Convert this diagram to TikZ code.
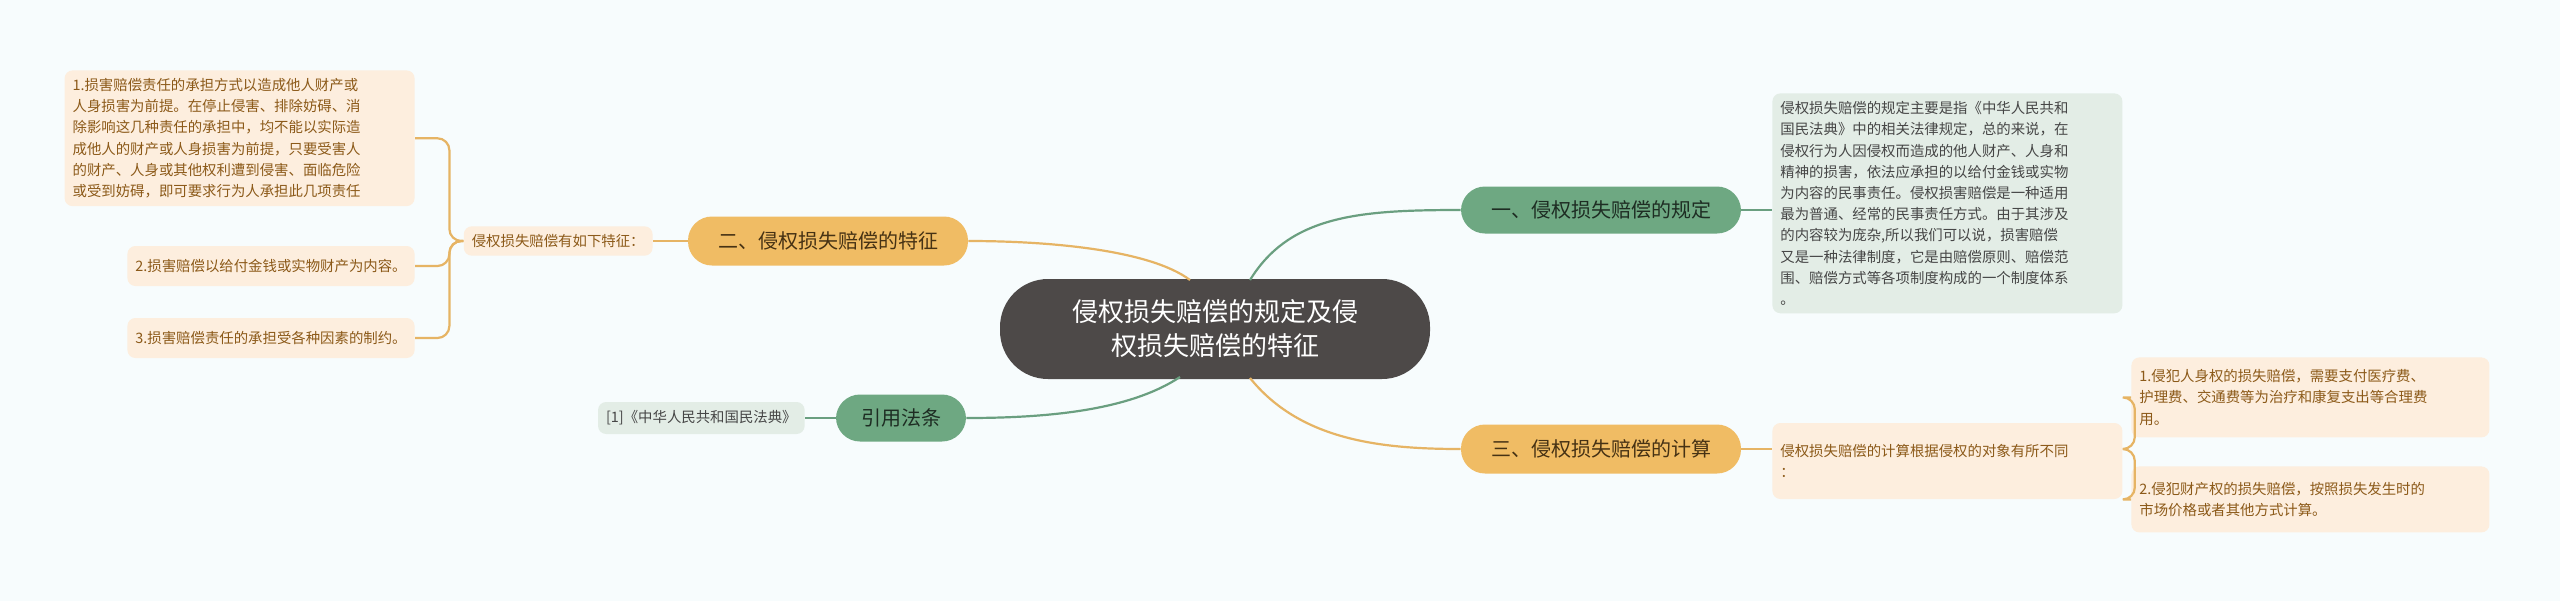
\documentclass[tikz,border=0pt]{standalone}
\usepackage{fontspec}
\setmainfont{Noto Sans CJK SC}
\definecolor{bg}{RGB}{247,252,253}
\definecolor{oln}{RGB}{230,180,100}
\definecolor{gln}{RGB}{106,159,128}
\definecolor{obf}{RGB}{253,238,222}
\definecolor{obt}{RGB}{140,90,25}
\definecolor{gbf}{RGB}{227,237,230}
\definecolor{gbt}{RGB}{70,70,70}
\definecolor{onf}{RGB}{240,188,100}
\definecolor{ont}{RGB}{70,50,20}
\definecolor{gnf}{RGB}{110,168,130}
\definecolor{gnt}{RGB}{30,45,35}
\definecolor{cf}{RGB}{77,73,72}
\begin{document}
\begin{tikzpicture}[x=0.5pt,y=-0.5pt,
  oline/.style={draw=oln, line width=1.1pt},
  gline/.style={draw=gln, line width=1.1pt},
  obox/.style={fill=obf, rounded corners=4pt, text=obt, font=\fontsize{7.2}{10.6}\selectfont, align=left, inner sep=4pt},
  gbox/.style={fill=gbf, rounded corners=4pt, text=gbt, font=\fontsize{7.2}{10.6}\selectfont, align=left, inner sep=4pt},
  onode/.style={fill=onf, rounded corners=12pt, text=ont, font=\fontsize{10}{12}\selectfont, minimum height=24.5pt, inner xsep=8pt},
  gnode/.style={fill=gnf, rounded corners=12pt, text=gnt, font=\fontsize{10}{12}\selectfont, minimum height=23.5pt, inner xsep=8pt}]
\fill[bg] (0,0) rectangle (2560,601);
\useasboundingbox (0,0) rectangle (2560,601);
\node[fill=cf, rounded corners=24pt, text=white, minimum width=215pt, minimum height=50pt, align=center, font=\fontsize{13}{17}\selectfont] (c) at (1215,329) {侵权损失赔偿的规定及侵\\权损失赔偿的特征};
% right branches
\node[gnode, minimum width=140pt] (n1) at (1601,210) {一、侵权损失赔偿的规定};
\node[gbox, text width=167pt, anchor=north west] (t1) at (1772,93) {侵权损失赔偿的规定主要是指《中华人民共和\\国民法典》中的相关法律规定，总的来说，在\\侵权行为人因侵权而造成的他人财产、人身和\\精神的损害，依法应承担的以给付金钱或实物\\为内容的民事责任。侵权损害赔偿是一种适用\\最为普通、经常的民事责任方式。由于其涉及\\的内容较为庞杂,所以我们可以说，损害赔偿\\又是一种法律制度，它是由赔偿原则、赔偿范\\围、赔偿方式等各项制度构成的一个制度体系\\。};
\node[onode, minimum width=140pt] (n3) at (1601,449) {三、侵权损失赔偿的计算};
\node[obox, text width=167pt, minimum height=38pt, anchor=west] (t3) at (1772,461) {侵权损失赔偿的计算根据侵权的对象有所不同\\：};
\node[obox, text width=171pt, minimum height=40pt, anchor=north west] (s1) at (2131,357) {1.侵犯人身权的损失赔偿，需要支付医疗费、\\护理费、交通费等为治疗和康复支出等合理费\\用。};
\node[obox, text width=171pt, minimum height=33pt, anchor=north west] (s2) at (2131,466) {2.侵犯财产权的损失赔偿，按照损失发生时的\\市场价格或者其他方式计算。};
% left branches
\node[onode, minimum width=140pt] (n2) at (828,241) {二、侵权损失赔偿的特征};
\node[obox, anchor=east] (t2) at (653,241) {侵权损失赔偿有如下特征：};
\node[obox, text width=167pt, anchor=north east] (l1) at (415,70) {1.损害赔偿责任的承担方式以造成他人财产或\\人身损害为前提。在停止侵害、排除妨碍、消\\除影响这几种责任的承担中，均不能以实际造\\成他人的财产或人身损害为前提，只要受害人\\的财产、人身或其他权利遭到侵害、面临危险\\或受到妨碍，即可要求行为人承担此几项责任};
\node[obox, anchor=east, minimum height=20pt] (l2) at (415,266) {2.损害赔偿以给付金钱或实物财产为内容。};
\node[obox, anchor=east, minimum height=20pt] (l3) at (415,338) {3.损害赔偿责任的承担受各种因素的制约。};
\node[gnode, minimum width=65pt] (n4) at (901,418) {引用法条};
\node[gbox, anchor=east, minimum height=16pt] (r1) at (805,418) {[1]《中华人民共和国民法典》};
% connectors
\draw[gline] (1250,280) .. controls (1290,215) and (1360,210) .. (n1.west);
\draw[gline] (n1.east) -- (t1.west |- n1.east);
\draw[oline] (1250,378) .. controls (1300,440) and (1380,449) .. (n3.west);
\draw[oline] (n3.east) -- (t3.west |- n3.east);
\draw[oline,rounded corners=6pt] (t3.east |- n3.east) -- ++(12,0) |- (s1.west);
\draw[oline,rounded corners=6pt] (t3.east |- n3.east) -- ++(12,0) |- (s2.west);
\draw[oline] (1190,280) .. controls (1150,250) and (1050,241) .. (n2.east);
\draw[oline] (n2.west) -- (t2.east);
\draw[oline,rounded corners=6pt] (t2.west) -- ++(-14,0) |- (l1.east);
\draw[oline,rounded corners=6pt] (t2.west) -- ++(-14,0) |- (l2.east);
\draw[oline,rounded corners=6pt] (t2.west) -- ++(-14,0) |- (l3.east);
\draw[gline] (1180,377) .. controls (1130,410) and (1050,418) .. (n4.east);
\draw[gline] (n4.west) -- (r1.east);
\end{tikzpicture}
\end{document}
